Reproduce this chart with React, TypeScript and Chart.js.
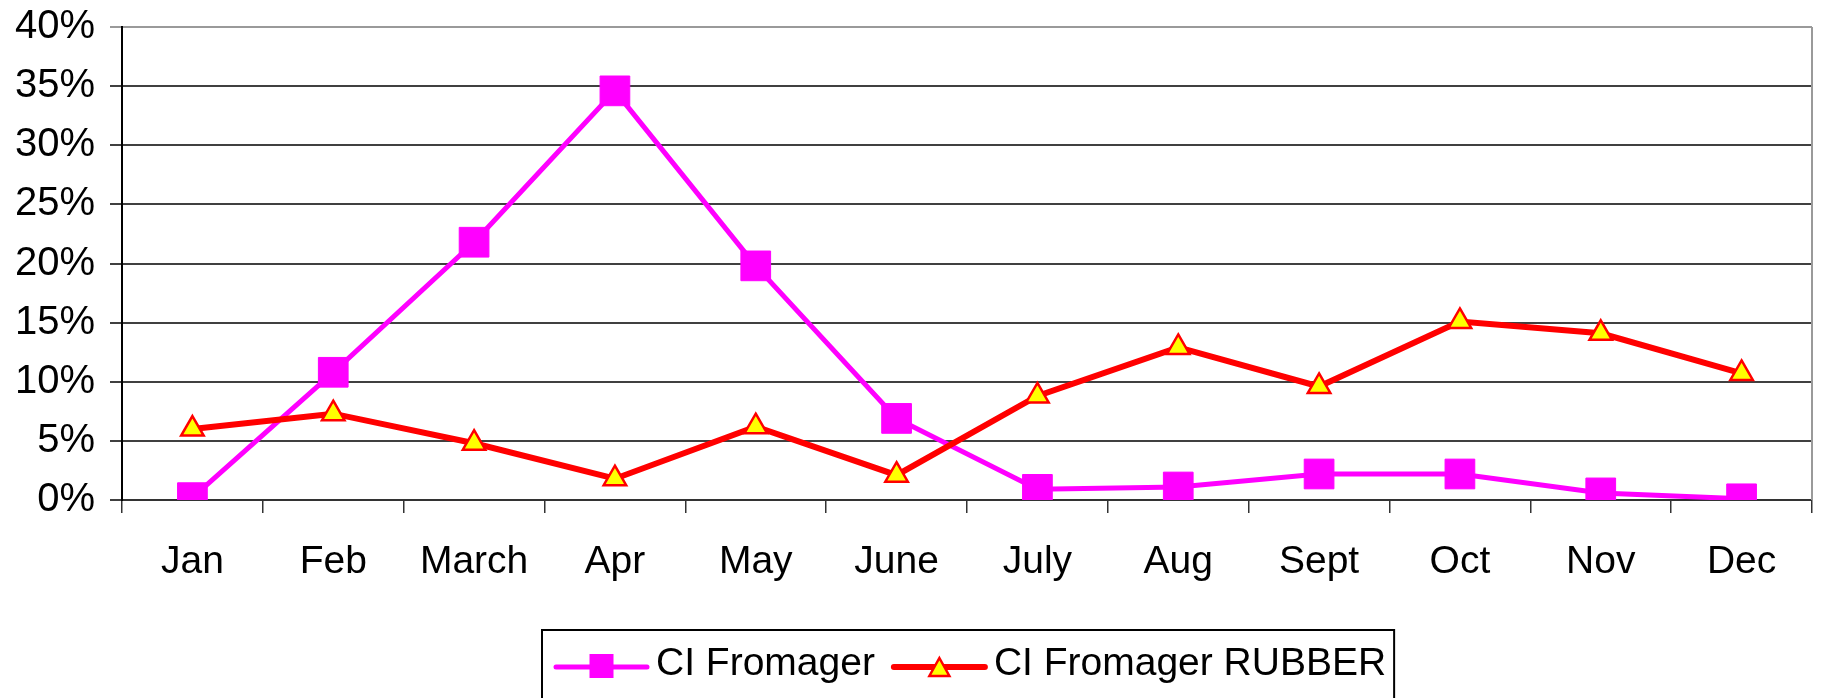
import React, { useEffect, useRef } from "react";
import { Chart, registerables } from "chart.js";

Chart.register(...registerables);

const months = ["Jan", "Feb", "March", "Apr", "May", "June", "July", "Aug", "Sept", "Oct", "Nov", "Dec"];
const fromagerValues = [0.2, 10.8, 21.8, 34.6, 19.8, 6.9, 0.9, 1.1, 2.2, 2.2, 0.6, 0.1];
const rubberValues = [6.0, 7.3, 4.8, 1.8, 6.2, 2.1, 8.8, 12.9, 9.6, 15.1, 14.1, 10.7];
const seriesNames = ["CI Fromager", "CI Fromager RUBBER"];
const yTickStep = 5;
const yMax = 40;

const FONT = "'Liberation Sans', Arial, sans-serif";

const frameAndLegend = {
  id: "frameAndLegend",
  afterDraw(chart: any) {
    const { ctx, chartArea } = chart;
    ctx.save();
    // right border of plot
    ctx.strokeStyle = "#9a9a9a";
    ctx.lineWidth = 2;
    ctx.beginPath();
    ctx.moveTo(chartArea.right, chartArea.top);
    ctx.lineTo(chartArea.right, chartArea.bottom);
    ctx.stroke();

    // legend
    ctx.font = `39px ${FONT}`;
    const w1 = ctx.measureText(seriesNames[0]).width;
    const w2 = ctx.measureText(seriesNames[1]).width;
    const padL = 14, lineLen = 91, gapText = 9, gapItem = 19, padR = 8;
    const total = padL + lineLen + gapText + w1 + gapItem + lineLen + gapText + w2 + padR;
    const cx = 968;
    const left = Math.round(cx - total / 2);
    const top = 630;
    const cy = 667;
    ctx.strokeStyle = "#000";
    ctx.lineWidth = 2;
    ctx.strokeRect(left, top, total, 80);

    // item 1
    let x = left + padL;
    ctx.strokeStyle = "#FF00FF";
    ctx.lineWidth = 5;
    ctx.lineCap = "round";
    ctx.beginPath();
    ctx.moveTo(x, cy);
    ctx.lineTo(x + lineLen, cy);
    ctx.stroke();
    ctx.fillStyle = "#FF00FF";
    ctx.fillRect(x + lineLen / 2 - 12, cy - 13, 24, 24);
    x += lineLen + gapText;
    ctx.fillStyle = "#000";
    ctx.textBaseline = "alphabetic";
    ctx.textAlign = "left";
    ctx.fillText(seriesNames[0], x, 675);
    x += w1 + gapItem;

    // item 2
    ctx.strokeStyle = "#FF0000";
    ctx.lineWidth = 6;
    ctx.beginPath();
    ctx.moveTo(x, cy);
    ctx.lineTo(x + lineLen, cy);
    ctx.stroke();
    const tx = x + lineLen / 2;
    ctx.beginPath();
    ctx.moveTo(tx, cy - 9);
    ctx.lineTo(tx + 10, cy + 9);
    ctx.lineTo(tx - 10, cy + 9);
    ctx.closePath();
    ctx.fillStyle = "#FFFF00";
    ctx.fill();
    ctx.lineWidth = 2.5;
    ctx.lineJoin = "miter";
    ctx.strokeStyle = "#FF0000";
    ctx.stroke();
    x += lineLen + gapText;
    ctx.fillStyle = "#000";
    ctx.fillText(seriesNames[1], x, 675);
    ctx.restore();
  },
};

export default function App() {
  const ref = useRef<HTMLCanvasElement>(null);
  useEffect(() => {
    document.body.style.margin = "0";
    const chart = new Chart(ref.current!, {
      type: "line",
      data: {
        labels: months,
        datasets: [
          {
            label: seriesNames[0],
            data: fromagerValues,
            borderColor: "#FF00FF",
            backgroundColor: "#FF00FF",
            borderWidth: 5,
            pointStyle: "rect",
            pointRadius: 21,
            pointBorderWidth: 1,
            pointBorderColor: "#FF00FF",
            pointBackgroundColor: "#FF00FF",
            tension: 0,
            order: 1,
          },
          {
            label: seriesNames[1],
            data: rubberValues,
            borderColor: "#FF0000",
            backgroundColor: "#FFFF00",
            borderWidth: 6,
            pointStyle: "triangle",
            pointRadius: 13,
            pointBorderWidth: 2.5,
            pointBorderColor: "#FF0000",
            pointBackgroundColor: "#FFFF00",
            tension: 0,
            order: 0,
          },
        ],
      },
      options: {
        animation: false,
        responsive: false,
        devicePixelRatio: 1,
        layout: { padding: { top: 27, left: 0, right: 3, bottom: 0 } },
        plugins: {
          legend: { display: false },
          tooltip: { enabled: false },
        },
        scales: {
          x: {
            offset: true,
            grid: {
              offset: true,
              drawOnChartArea: false,
              drawTicks: true,
              tickLength: 13,
              color: "#333",
              lineWidth: 1.5,
            },
            border: { color: "#333", width: 2 },
            ticks: {
              color: "#000",
              font: { family: FONT, size: 39 },
              padding: 26,
              maxRotation: 0,
              autoSkip: false,
            },
            afterFit: (scale: any) => {
              scale.height = 198;
              scale.paddingLeft = 0;
              scale.paddingRight = 0;
            },
          },
          y: {
            min: 0,
            max: yMax,
            ticks: {
              stepSize: yTickStep,
              color: "#000",
              font: { family: FONT, size: 40 },
              padding: 15,
              callback: (v: any) => `${v}%`,
            },
            grid: {
              color: (c: any) => (c.tick && c.tick.value === yMax ? "#9a9a9a" : "#404040"),
              lineWidth: 2,
              tickLength: 12,
            },
            border: { color: "#000", width: 2 },
            afterFit: (scale: any) => {
              scale.width = 122;
              scale.paddingTop = 0;
              scale.paddingBottom = 0;
            },
          },
        },
      },
      plugins: [frameAndLegend],
    });
    return () => chart.destroy();
  }, []);
  return (
    <div style={{ position: "fixed", left: 0, top: 0, width: 1834, height: 698, background: "#fff" }}>
      <canvas ref={ref} width={1834} height={698} style={{ width: 1834, height: 698, display: "block" }} />
    </div>
  );
}
